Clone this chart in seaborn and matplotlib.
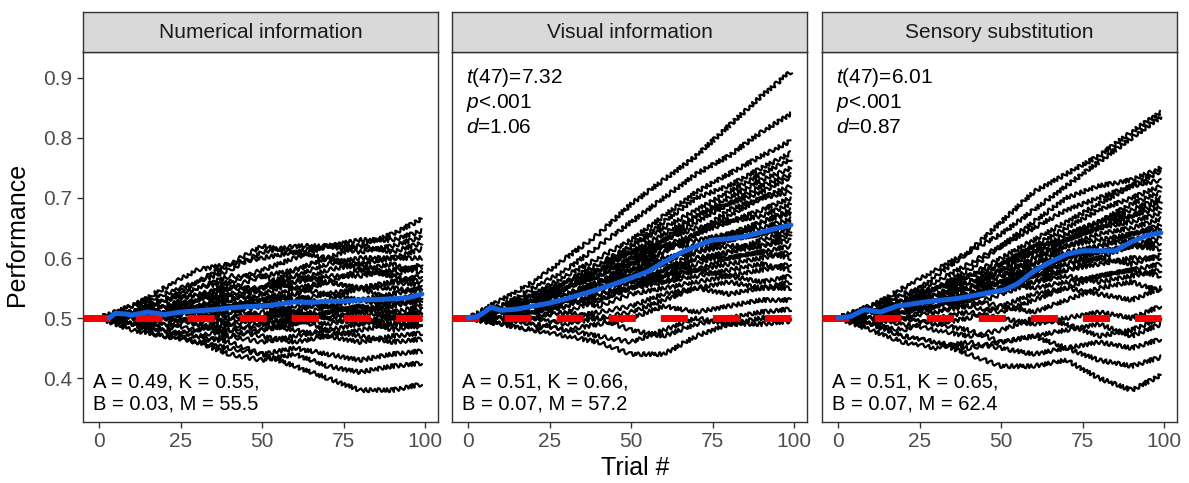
import matplotlib
matplotlib.use('Agg')
import matplotlib.pyplot as plt
import pandas as pd
import seaborn as sns

# checkpoints (trial #) at which each participant's running performance was read
trials = [0, 10, 20, 30, 40, 50, 60, 70, 80, 90, 99]

numerical_lines = [
    [.50, .51, .52, .53, .56, .58, .60, .62, .62, .64, .665],
    [.50, .52, .55, .58, .59, .60, .61, .62, .63, .63, .645],
    [.50, .51, .53, .56, .58, .61, .62, .62, .61, .62, .635],
    [.50, .49, .51, .53, .55, .57, .58, .60, .62, .61, .625],
    [.50, .51, .50, .52, .54, .55, .57, .59, .60, .60, .615],
    [.50, .52, .54, .56, .59, .62, .61, .60, .59, .60, .600],
    [.50, .51, .52, .54, .55, .55, .58, .60, .58, .57, .590],
    [.50, .50, .52, .51, .53, .55, .56, .57, .57, .58, .585],
    [.50, .51, .53, .55, .57, .57, .55, .56, .58, .59, .575],
    [.50, .49, .50, .52, .53, .52, .54, .56, .55, .56, .570],
    [.50, .51, .52, .51, .52, .54, .56, .58, .59, .57, .560],
    [.50, .52, .53, .55, .56, .54, .53, .54, .55, .56, .555],
    [.50, .50, .49, .50, .52, .53, .55, .54, .53, .54, .550],
    [.50, .51, .50, .49, .51, .52, .51, .53, .55, .55, .545],
    [.50, .51, .53, .54, .53, .55, .57, .56, .55, .53, .540],
    [.50, .49, .48, .50, .51, .50, .52, .52, .53, .52, .535],
    [.50, .51, .52, .52, .50, .51, .50, .52, .51, .52, .530],
    [.50, .50, .51, .53, .54, .53, .51, .50, .51, .53, .525],
    [.50, .49, .50, .51, .49, .48, .50, .51, .52, .51, .520],
    [.50, .51, .52, .50, .51, .53, .54, .52, .51, .50, .515],
    [.50, .50, .51, .52, .52, .50, .49, .51, .52, .50, .510],
    [.50, .49, .49, .48, .49, .50, .51, .50, .49, .50, .505],
    [.50, .51, .50, .51, .53, .52, .50, .48, .49, .51, .500],
    [.50, .50, .48, .47, .48, .49, .50, .49, .50, .49, .495],
    [.50, .49, .50, .49, .47, .48, .49, .51, .50, .48, .490],
    [.50, .50, .51, .49, .48, .47, .46, .47, .48, .49, .485],
    [.50, .49, .47, .48, .50, .49, .48, .47, .46, .47, .475],
    [.50, .48, .47, .46, .47, .46, .47, .48, .47, .46, .465],
    [.50, .49, .48, .46, .45, .44, .45, .44, .43, .44, .445],
    [.50, .49, .47, .46, .44, .43, .44, .42, .41, .42, .425],
    [.50, .49, .48, .47, .46, .44, .42, .40, .38, .38, .390],
]

visual_lines = [
    [.50, .53, .56, .60, .64, .69, .73, .77, .82, .87, .910],
    [.50, .52, .55, .58, .62, .66, .70, .74, .77, .81, .840],
    [.50, .51, .54, .57, .60, .63, .67, .71, .74, .77, .795],
    [.50, .52, .53, .56, .59, .62, .66, .70, .72, .75, .775],
    [.50, .51, .53, .55, .58, .62, .65, .68, .71, .74, .765],
    [.50, .50, .52, .55, .58, .61, .64, .67, .70, .73, .750],
    [.50, .51, .54, .56, .59, .61, .63, .66, .69, .72, .740],
    [.50, .52, .53, .54, .56, .59, .63, .67, .69, .71, .735],
    [.50, .51, .52, .55, .57, .60, .62, .64, .67, .70, .720],
    [.50, .50, .53, .56, .58, .59, .61, .64, .68, .70, .710],
    [.50, .51, .52, .53, .56, .58, .61, .64, .66, .68, .700],
    [.50, .52, .54, .55, .57, .60, .63, .65, .66, .67, .690],
    [.50, .49, .51, .53, .55, .57, .59, .62, .64, .66, .680],
    [.50, .51, .53, .54, .55, .58, .60, .61, .63, .66, .675],
    [.50, .50, .51, .53, .56, .59, .62, .63, .64, .65, .665],
    [.50, .51, .52, .52, .54, .56, .58, .61, .63, .64, .660],
    [.50, .52, .53, .55, .58, .61, .62, .62, .63, .64, .650],
    [.50, .50, .50, .52, .54, .55, .57, .60, .61, .63, .645],
    [.50, .51, .53, .54, .55, .57, .60, .61, .62, .62, .640],
    [.50, .49, .51, .53, .55, .56, .57, .59, .61, .62, .630],
    [.50, .51, .52, .53, .53, .55, .58, .60, .60, .61, .620],
    [.50, .50, .52, .54, .56, .58, .59, .58, .59, .60, .610],
    [.50, .51, .51, .52, .54, .55, .56, .58, .60, .61, .600],
    [.50, .49, .50, .51, .53, .55, .57, .58, .57, .58, .590],
    [.50, .51, .53, .54, .56, .57, .56, .57, .58, .59, .580],
    [.50, .50, .51, .53, .52, .54, .55, .56, .57, .56, .570],
    [.50, .49, .48, .50, .51, .52, .54, .55, .54, .55, .560],
    [.50, .51, .50, .49, .50, .51, .53, .55, .56, .55, .550],
    [.50, .50, .49, .48, .49, .50, .52, .51, .52, .53, .530],
    [.50, .49, .50, .51, .50, .48, .47, .49, .50, .51, .515],
    [.50, .50, .49, .48, .47, .46, .48, .50, .49, .50, .500],
    [.50, .49, .48, .47, .46, .44, .44, .47, .49, .49, .495],
]

sensory_lines = [
    [.50, .51, .53, .57, .61, .66, .71, .74, .77, .81, .843],
    [.50, .52, .55, .58, .61, .64, .68, .72, .76, .80, .835],
    [.50, .51, .53, .55, .58, .62, .66, .70, .72, .73, .750],
    [.50, .52, .54, .56, .59, .62, .65, .68, .70, .72, .745],
    [.50, .51, .52, .55, .57, .60, .63, .66, .69, .72, .730],
    [.50, .50, .52, .54, .56, .59, .62, .65, .68, .70, .720],
    [.50, .51, .53, .54, .55, .58, .61, .64, .66, .69, .710],
    [.50, .52, .54, .55, .57, .59, .61, .63, .66, .68, .700],
    [.50, .51, .52, .53, .55, .57, .60, .63, .65, .67, .695],
    [.50, .50, .51, .53, .55, .58, .61, .64, .66, .67, .685],
    [.50, .51, .53, .55, .57, .59, .62, .63, .65, .66, .675],
    [.50, .49, .51, .52, .54, .56, .59, .62, .64, .65, .665],
    [.50, .51, .52, .54, .55, .56, .58, .60, .62, .64, .655],
    [.50, .52, .53, .53, .55, .57, .60, .62, .63, .64, .650],
    [.50, .50, .52, .54, .56, .58, .59, .61, .62, .63, .645],
    [.50, .51, .51, .52, .53, .55, .58, .60, .61, .62, .635],
    [.50, .50, .52, .53, .55, .56, .57, .59, .60, .62, .625],
    [.50, .51, .53, .55, .56, .57, .58, .59, .61, .62, .615],
    [.50, .49, .51, .53, .54, .55, .57, .58, .60, .59, .605],
    [.50, .51, .52, .51, .53, .55, .56, .58, .59, .60, .600],
    [.50, .50, .50, .52, .54, .56, .55, .56, .57, .58, .590],
    [.50, .51, .52, .53, .52, .54, .56, .57, .56, .57, .580],
    [.50, .49, .50, .51, .52, .51, .53, .55, .57, .58, .570],
    [.50, .51, .50, .49, .50, .52, .54, .55, .54, .53, .550],
    [.50, .52, .53, .54, .53, .52, .51, .53, .55, .56, .545],
    [.50, .49, .48, .50, .51, .50, .49, .50, .51, .50, .520],
    [.50, .50, .49, .48, .47, .48, .50, .49, .47, .48, .500],
    [.50, .49, .50, .49, .48, .46, .47, .48, .49, .47, .490],
    [.50, .49, .47, .46, .45, .46, .47, .45, .46, .45, .465],
    [.50, .48, .46, .45, .46, .45, .44, .45, .43, .42, .435],
    [.50, .49, .47, .46, .44, .42, .42, .43, .40, .38, .405],
]

# group means (blue)
numerical_mean_trials = [3, 5, 8, 10, 15, 20, 25, 30, 35, 40, 45, 50, 55, 60, 65, 70, 75, 80, 85, 90, 95, 99]
numerical_mean = [.500, .508, .507, .505, .510, .506, .510, .512, .514, .517, .519, .520, .523, .527, .526, .528, .528, .530, .531, .532, .534, .540]
visual_mean_trials = [0, 3, 5, 7, 10, 15, 20, 25, 30, 35, 40, 45, 50, 55, 60, 65, 70, 75, 80, 85, 90, 95, 99]
visual_mean = [.500, .503, .510, .518, .513, .515, .520, .525, .532, .540, .548, .557, .567, .577, .593, .608, .620, .630, .632, .636, .643, .650, .655]
sensory_mean_trials = [0, 4, 8, 13, 18, 22, 27, 32, 37, 42, 47, 51, 55, 60, 65, 70, 75, 80, 85, 90, 95, 99]
sensory_mean = [.500, .503, .514, .510, .520, .523, .527, .530, .533, .538, .543, .547, .557, .578, .593, .606, .612, .612, .612, .627, .638, .642]

chance = 0.5
panel_titles = ['Numerical information', 'Visual information', 'Sensory substitution']
t_values = [None, '7.32', '6.01']
d_values = [None, '1.06', '0.87']
fit_lines = [
    ('A = 0.49, K = 0.55,', 'B = 0.03, M = 55.5'),
    ('A = 0.51, K = 0.66,', 'B = 0.07, M = 57.2'),
    ('A = 0.51, K = 0.65,', 'B = 0.07, M = 62.4'),
]

panel_lines = [numerical_lines, visual_lines, sensory_lines]
panel_means = [(numerical_mean_trials, numerical_mean),
               (visual_mean_trials, visual_mean),
               (sensory_mean_trials, sensory_mean)]

sns.set_theme(style='white')
plt.rcParams['font.family'] = ['Liberation Sans', 'DejaVu Sans']
plt.rcParams['mathtext.fontset'] = 'custom'
plt.rcParams['mathtext.rm'] = 'Liberation Sans'
plt.rcParams['mathtext.it'] = 'Liberation Sans:italic'

W, H = 1189, 483
fig = plt.figure(figsize=(W / 100, H / 100), dpi=100)

lefts = [83, 452, 822]
pw = 355
top_px, bottom_px, strip_px = 52, 422, 40
border = '#333333'
xmin, xmax = -4.95, 103.95

for i in range(3):
    l = lefts[i] / W
    ax = fig.add_axes([l, 1 - bottom_px / H, pw / W, (bottom_px - top_px) / H])
    sax = fig.add_axes([l, 1 - top_px / H, pw / W, strip_px / H])

    rows = []
    for s, vals in enumerate(panel_lines[i]):
        for t, v in zip(trials, vals):
            rows.append({'subject': s, 'trial': t, 'perf': v})
    df = pd.DataFrame(rows)

    sns.lineplot(data=df, x='trial', y='perf', units='subject', estimator=None,
                 color='black', lw=1.6, ax=ax, legend=False)
    for ln in ax.lines:
        ln.set_sketch_params(scale=2.0, length=6, randomness=3)

    ax.plot([xmin, 99], [chance, chance], color='#F20000', lw=5,
            linestyle=(0, (3.9, 3.6)), solid_capstyle='butt', zorder=3)

    mt, mv = panel_means[i]
    sns.lineplot(x=mt, y=mv, color='#1560DC', lw=3.6, ax=ax, zorder=4)

    ax.set_xlim(xmin, xmax)
    ax.set_ylim(0.327, 0.943)
    ax.set_xticks([0, 25, 50, 75, 100])
    ax.set_yticks([0.4, 0.5, 0.6, 0.7, 0.8, 0.9])
    ax.set_xlabel('')
    ax.set_ylabel('')
    ax.tick_params(axis='x', bottom=True, length=4.5, width=1, color=border,
                   labelsize=15, labelcolor='#4D4D4D', pad=3)
    if i == 0:
        ax.set_yticklabels(['0.4', '0.5', '0.6', '0.7', '0.8', '0.9'])
        ax.tick_params(axis='y', left=True, length=4.5, width=1, color=border,
                       labelsize=15, labelcolor='#4D4D4D', pad=3)
    else:
        ax.tick_params(axis='y', left=False, labelleft=False)
    for sp in ax.spines.values():
        sp.set_color(border)
        sp.set_linewidth(1)

    if t_values[i] is not None:
        ax.text(-0.8, 0.900, r'$t$(47)=' + t_values[i], fontsize=15, va='center', ha='left', color='black')
        ax.text(-0.8, 0.858, r'$p$<.001', fontsize=15, va='center', ha='left', color='black')
        ax.text(-0.8, 0.817, r'$d$=' + d_values[i], fontsize=15, va='center', ha='left', color='black')

    ax.text(-1.8, 0.394, fit_lines[i][0], fontsize=14.5, va='center', ha='left', color='black')
    ax.text(-1.8, 0.357, fit_lines[i][1], fontsize=14.5, va='center', ha='left', color='black')

    sax.set_facecolor('#D9D9D9')
    sax.set_xticks([])
    sax.set_yticks([])
    for sp in sax.spines.values():
        sp.set_color(border)
        sp.set_linewidth(1)
    sax.text(0.5, 0.5, panel_titles[i], transform=sax.transAxes, ha='center',
             va='center', fontsize=15, color='#1A1A1A')

fig.text(17 / W, 1 - 234 / H, 'Performance', rotation=90, ha='center', va='center', fontsize=18, color='black')
fig.text(635 / W, 1 - 468 / H, 'Trial #', ha='center', va='center', fontsize=18, color='black')

fig.savefig('out.png', dpi=100)
